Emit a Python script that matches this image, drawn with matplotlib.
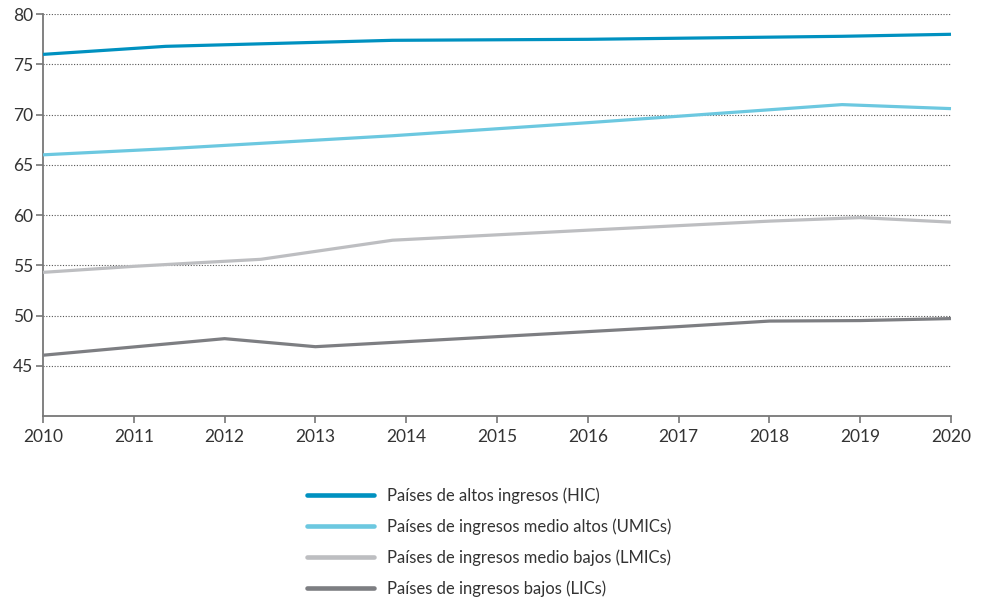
import matplotlib
matplotlib.use("Agg")
import matplotlib.pyplot as plt

plt.rcParams['font.family'] = ['Lato', 'DejaVu Sans']

labels = ["Países de altos ingresos (HIC)",
          "Países de ingresos medio altos (UMICs)",
          "Países de ingresos medio bajos (LMICs)",
          "Países de ingresos bajos (LICs)"]

hic_x = [2010, 2011.35, 2013.85, 2016, 2018.8, 2020]
hic_y = [76.0, 76.8, 77.4, 77.5, 77.8, 78.0]

umic_x = [2010, 2011.35, 2013.85, 2016, 2018.8, 2020]
umic_y = [66.0, 66.6, 67.9, 69.2, 71.0, 70.6]

lmic_x = [2010, 2011, 2012, 2012.4, 2013.85, 2016, 2018, 2019, 2020]
lmic_y = [54.3, 54.9, 55.4, 55.6, 57.5, 58.5, 59.4, 59.75, 59.3]

lic_x = [2010, 2012, 2013, 2014, 2016, 2017, 2018, 2019, 2020]
lic_y = [46.05, 47.7, 46.9, 47.4, 48.4, 48.9, 49.45, 49.5, 49.7]

years = list(range(2010, 2021))
yticks = [45, 50, 55, 60, 65, 70, 75, 80]

colors = ["#0091C0", "#6CC8E0", "#BDBEC1", "#7D7E82"]

fig = plt.figure(figsize=(9.83, 6.01), dpi=100)
ax = fig.add_axes([43/983, 1-416/601, (951-43)/983, (416-14.2)/601])

series = [(hic_x, hic_y), (umic_x, umic_y), (lmic_x, lmic_y), (lic_x, lic_y)]
handles = []
for (xs, ys), c, lab in zip(series, colors, labels):
    h, = ax.plot(xs, ys, color=c, lw=2.3, label=lab, solid_capstyle='butt', zorder=3)
    handles.append(h)

ax.set_xlim(2010, 2020)
ax.set_ylim(40, 80)
ax.set_xticks(years)
ax.set_xticklabels([str(y) for y in years])
ax.set_yticks(yticks)
for y in yticks:
    ax.axhline(y, color="#555555", lw=0.8, ls=(0, (1, 1.5)), zorder=1)

for s in ['top', 'right']:
    ax.spines[s].set_visible(False)
for s in ['left', 'bottom']:
    ax.spines[s].set_color("#777777")
    ax.spines[s].set_linewidth(1.3)
ax.tick_params(axis='both', direction='out', length=5, width=1.2, color="#777777",
               labelsize=12.5, labelcolor="#333333")
ax.tick_params(axis='y', pad=2)
ax.tick_params(axis='x', pad=4)
for h in handles:
    h.set_clip_on(False)

leg = fig.legend(handles=handles, labels=labels, loc='upper left',
                 bbox_to_anchor=(307/983, 1-487/601), frameon=False,
                 fontsize=12, handlelength=4.0, handletextpad=0.8,
                 labelspacing=0.88, borderaxespad=0, borderpad=0)
for line in leg.get_lines():
    line.set_linewidth(3.3)
    line.set_solid_capstyle('round')
for t in leg.get_texts():
    t.set_color("#333333")

fig.savefig("out.png", dpi=100)
